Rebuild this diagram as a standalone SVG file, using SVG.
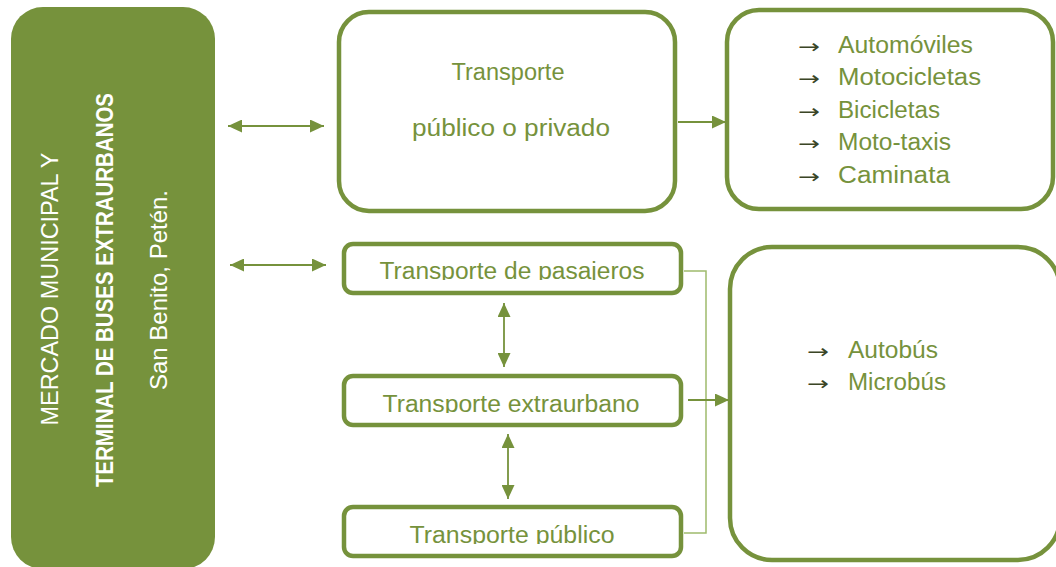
<svg xmlns="http://www.w3.org/2000/svg" width="1056" height="567" viewBox="0 0 1056 567">
<defs>
<style>
.box{fill:#fff;stroke:#76923C;stroke-width:4.5}
.t{font-family:"Liberation Sans",Arial,sans-serif;fill:#76923C;font-size:23px}
.w{font-family:"Liberation Sans",Arial,sans-serif;fill:#fff}
.ar{font-family:"DejaVu Sans",sans-serif;fill:#3b4626;font-size:19px}
.ln{stroke:#76923C;stroke-width:1.8;fill:none}
.br{stroke:#9fbb6c;stroke-width:1.5;fill:none}
</style>
<marker id="ah" viewBox="0 0 14 13" refX="14" refY="6.5" markerWidth="14" markerHeight="13" markerUnits="userSpaceOnUse" orient="auto-start-reverse"><path d="M0,0 L14,6.5 L0,13 z" fill="#76923C"/></marker>
<clipPath id="c1"><rect x="344" y="244" width="337" height="36"/></clipPath>
<clipPath id="c2"><rect x="344" y="376" width="337" height="37"/></clipPath>
<clipPath id="c3"><rect x="344" y="507" width="337" height="37"/></clipPath>
</defs>
<rect width="1056" height="567" fill="#fff"/>

<g id="terminal">
<rect x="11" y="7" width="204" height="562" rx="32" fill="#76923C"/>
<text class="w" transform="translate(58,289) rotate(-90)" text-anchor="middle" font-size="23" textLength="273" lengthAdjust="spacingAndGlyphs">MERCADO MUNICIPAL Y</text>
<text class="w" transform="translate(113,290) rotate(-90)" text-anchor="middle" font-size="24" font-weight="bold" textLength="394" lengthAdjust="spacingAndGlyphs">TERMINAL DE BUSES EXTRAURBANOS</text>
<text class="w" transform="translate(167,290) rotate(-90)" text-anchor="middle" font-size="24" textLength="200" lengthAdjust="spacingAndGlyphs">San Benito, Petén.</text>
</g>

<g id="publico-privado">
<rect class="box" x="339" y="12" width="336" height="199" rx="30"/>
<text class="t" x="508" y="80" text-anchor="middle" font-size="24" textLength="113" lengthAdjust="spacingAndGlyphs">Transporte</text>
<text class="t" x="511" y="136" text-anchor="middle" font-size="24" textLength="198" lengthAdjust="spacingAndGlyphs">público o privado</text>
</g>

<g id="lista-privado">
<rect class="box" x="727" y="10" width="326" height="199" rx="32"/>
<text class="ar" x="798" y="53" textLength="22" lengthAdjust="spacingAndGlyphs">→</text>
<text class="t" x="838" y="53" textLength="135" lengthAdjust="spacingAndGlyphs">Automóviles</text>
<text class="ar" x="798" y="85" textLength="22" lengthAdjust="spacingAndGlyphs">→</text>
<text class="t" x="838" y="85" textLength="143" lengthAdjust="spacingAndGlyphs">Motocicletas</text>
<text class="ar" x="798" y="118" textLength="22" lengthAdjust="spacingAndGlyphs">→</text>
<text class="t" x="838" y="118" textLength="102" lengthAdjust="spacingAndGlyphs">Bicicletas</text>
<text class="ar" x="798" y="150" textLength="22" lengthAdjust="spacingAndGlyphs">→</text>
<text class="t" x="838" y="150" textLength="113" lengthAdjust="spacingAndGlyphs">Moto-taxis</text>
<text class="ar" x="798" y="183" textLength="22" lengthAdjust="spacingAndGlyphs">→</text>
<text class="t" x="838" y="183" textLength="112" lengthAdjust="spacingAndGlyphs">Caminata</text>
</g>

<g id="pasajeros">
<rect class="box" x="344" y="244" width="337" height="49" rx="9"/>
<text class="t" x="512" y="279" text-anchor="middle" font-size="23" textLength="265" lengthAdjust="spacingAndGlyphs" clip-path="url(#c1)">Transporte de pasajeros</text>
</g>

<g id="extraurbano">
<rect class="box" x="344" y="376" width="337" height="49" rx="9"/>
<text class="t" x="511" y="412" text-anchor="middle" font-size="23" textLength="257" lengthAdjust="spacingAndGlyphs" clip-path="url(#c2)">Transporte extraurbano</text>
</g>

<g id="transporte-publico">
<rect class="box" x="344" y="507" width="337" height="49" rx="9"/>
<text class="t" x="512" y="543" text-anchor="middle" font-size="23" textLength="205" lengthAdjust="spacingAndGlyphs" clip-path="url(#c3)">Transporte público</text>
</g>

<g id="lista-buses">
<rect class="box" x="730" y="247" width="330" height="313" rx="42"/>
<text class="ar" x="807" y="358" textLength="22" lengthAdjust="spacingAndGlyphs">→</text>
<text class="t" x="848" y="358" textLength="90" lengthAdjust="spacingAndGlyphs">Autobús</text>
<text class="ar" x="807" y="390" textLength="22" lengthAdjust="spacingAndGlyphs">→</text>
<text class="t" x="848" y="390" textLength="98" lengthAdjust="spacingAndGlyphs">Microbús</text>
</g>

<g id="connectors">
<line class="ln" x1="228" y1="126" x2="324" y2="126" marker-start="url(#ah)" marker-end="url(#ah)"/>
<line class="ln" x1="230" y1="265" x2="326" y2="265" marker-start="url(#ah)" marker-end="url(#ah)"/>
<line class="ln" x1="678" y1="122" x2="726" y2="122" marker-end="url(#ah)"/>
<line class="ln" x1="504" y1="303" x2="504" y2="367" marker-start="url(#ah)" marker-end="url(#ah)"/>
<line class="ln" x1="508" y1="434" x2="508" y2="499" marker-start="url(#ah)" marker-end="url(#ah)"/>
<polyline class="br" points="684,271 706,271 706,533 684,533"/>
<line class="ln" x1="688" y1="400" x2="729" y2="400" marker-end="url(#ah)"/>
</g>
</svg>
